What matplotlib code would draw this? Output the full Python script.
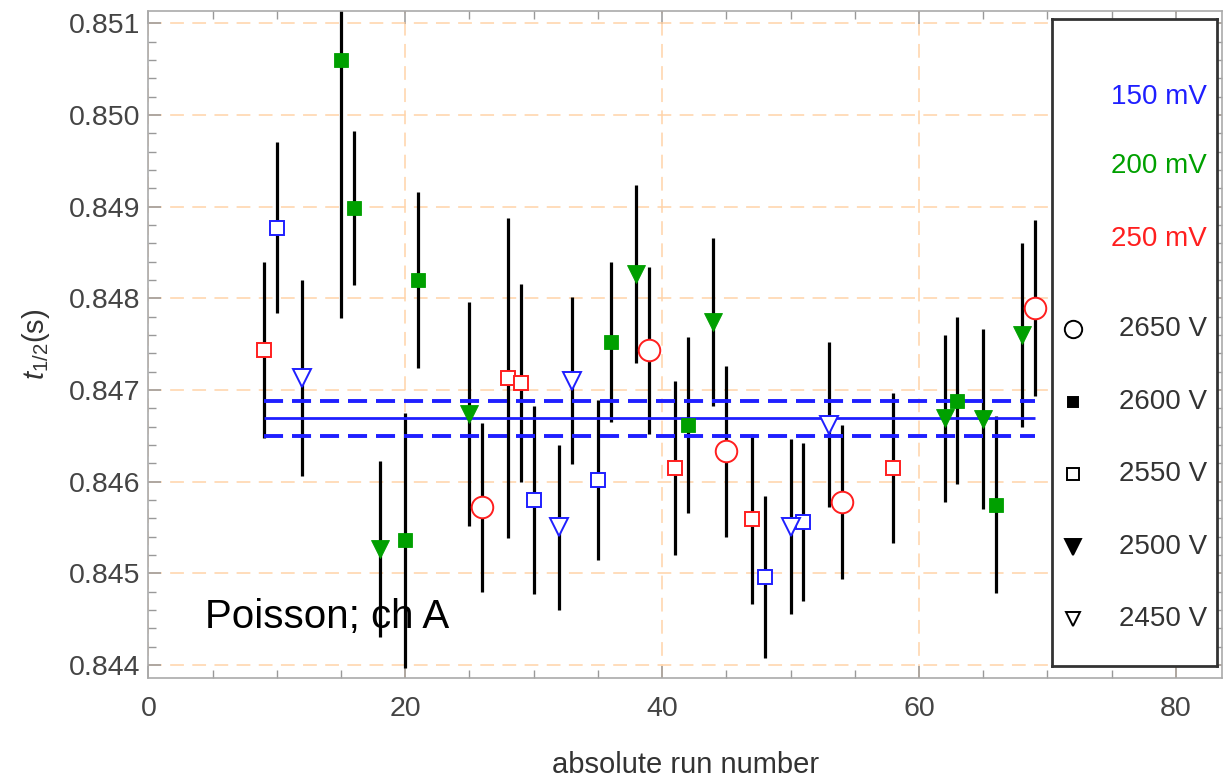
import numpy as np
import matplotlib.pyplot as plt
from matplotlib.ticker import MultipleLocator, FormatStrFormatter

plt.rcParams['font.family'] = ['Liberation Sans', 'DejaVu Sans']
plt.rcParams['mathtext.fontset'] = 'custom'
plt.rcParams['mathtext.rm'] = 'Liberation Sans'
plt.rcParams['mathtext.it'] = 'Liberation Sans:italic'

# run data: half-life, uncertainty, discriminator threshold (mV), high voltage (V)
runs = [9, 10, 12, 15, 16, 18, 20, 21, 25, 26, 28, 29, 30, 32, 33, 35, 36, 38,
        39, 41, 42, 44, 45, 47, 48, 50, 51, 53, 54, 58, 62, 63, 65, 66, 68, 69]
t_half = [0.84744, 0.84877, 0.84713, 0.85060, 0.84898, 0.84527, 0.84536, 0.84820,
          0.84674, 0.84572, 0.84713, 0.84708, 0.84580, 0.84550, 0.84710, 0.84602,
          0.84752, 0.84826, 0.84743, 0.84615, 0.84662, 0.84774, 0.84633, 0.84559,
          0.84496, 0.84551, 0.84556, 0.84662, 0.84578, 0.84615, 0.84669, 0.84688,
          0.84668, 0.84575, 0.84760, 0.84789]
t_err = [0.00096, 0.00093, 0.00107, 0.00282, 0.00084, 0.00096, 0.00139, 0.00096,
         0.00122, 0.00092, 0.00174, 0.00108, 0.00103, 0.00090, 0.00091, 0.00087,
         0.00087, 0.00097, 0.00091, 0.00095, 0.00096, 0.00092, 0.00093, 0.00093,
         0.00088, 0.00095, 0.00086, 0.00090, 0.00084, 0.00082, 0.00091, 0.00091,
         0.00098, 0.00097, 0.00100, 0.00096]
threshold = [250, 150, 150, 200, 200, 200, 200, 200, 200, 250, 250, 250, 150, 150,
             150, 150, 200, 200, 250, 250, 200, 200, 250, 250, 150, 150, 150, 150,
             250, 250, 200, 200, 200, 200, 200, 250]
hv = [2550, 2550, 2450, 2600, 2600, 2500, 2600, 2600, 2500, 2650, 2550, 2550, 2550,
      2450, 2450, 2550, 2600, 2500, 2650, 2550, 2600, 2500, 2650, 2550, 2550, 2450,
      2550, 2450, 2650, 2550, 2500, 2600, 2500, 2600, 2500, 2650]

mean_t = 0.84669
mean_err = 0.00019

thresholds = [150, 200, 250]
threshold_colors = {150: '#1f1fff', 200: '#00a000', 250: '#ff1f1f'}
hv_levels = [2650, 2600, 2550, 2500, 2450]
# marker, filled, markersize
hv_styles = {2650: ('o', False, 15.5),
             2600: ('s', True, 9.8),
             2550: ('s', False, 10.3),
             2500: ('v', True, 13),
             2450: ('v', False, 13.5)}

runs = np.array(runs)
t_half = np.array(t_half)
t_err = np.array(t_err)
threshold = np.array(threshold)
hv = np.array(hv)

fig = plt.figure(figsize=(12.25, 7.83), dpi=100)
ax = fig.add_axes([0.1211, 0.1341, 0.8765, 0.852])

ax.errorbar(runs, t_half, yerr=t_err, fmt='none', ecolor='black',
            elinewidth=2.3, capsize=0, zorder=2)

x0, x1 = runs.min(), runs.max()
ax.hlines(mean_t, x0, x1, colors='#1f1fff', linewidth=2.0, zorder=3)
ax.hlines([mean_t - mean_err, mean_t + mean_err], x0, x1, colors='#1f1fff',
          linewidth=2.8, linestyles=[(0, (4.9, 2.3))], zorder=3)

for thr in thresholds:
    for v in hv_levels:
        sel = (threshold == thr) & (hv == v)
        if not sel.any():
            continue
        marker, filled, ms = hv_styles[v]
        col = threshold_colors[thr]
        ax.plot(runs[sel], t_half[sel], linestyle='none', marker=marker,
                markersize=ms, markeredgecolor=col,
                markerfacecolor=col if filled else 'white',
                markeredgewidth=0.6 if filled else 1.4, zorder=4)

ax.set_xlim(0, 83.6)
ax.set_ylim(0.843858, 0.851134)
ax.xaxis.set_major_locator(MultipleLocator(20))
ax.xaxis.set_minor_locator(MultipleLocator(5))
ax.yaxis.set_major_locator(MultipleLocator(0.001))
ax.yaxis.set_minor_locator(MultipleLocator(0.0002))
ax.yaxis.set_major_formatter(FormatStrFormatter('%.3f'))

ax.grid(True, which='major', color='#ffd3a8', linestyle=(0, (9, 5.5)), linewidth=1.1)
ax.set_axisbelow(True)
for sp in ax.spines.values():
    sp.set_color('#aaaaaa')
    sp.set_linewidth(1.2)
ax.tick_params(which='both', direction='in', top=True, right=True, color='#999999',
               labelcolor='#444444', labelsize=20.5)
ax.tick_params(which='major', length=9, width=1.1)
ax.tick_params(which='minor', length=5.5, width=1.0)
ax.tick_params(axis='x', which='major', pad=13)
ax.tick_params(axis='y', which='major', pad=6)

ax.set_xlabel('absolute run number', fontsize=21, color='#333333', labelpad=21)
ax.set_ylabel(r'$t_{1/2}$(s)', fontsize=21, color='#333333', labelpad=12)

ax.text(0.0528, 0.075, 'Poisson; ch A', transform=ax.transAxes, fontsize=29,
        color='black', va='baseline', ha='left', zorder=5)

# legend box
lx0, lx1, ly0, ly1 = 1052, 1217, 19, 666
lax = fig.add_axes([lx0 / 1225, 1 - ly1 / 783, (lx1 - lx0) / 1225, (ly1 - ly0) / 783],
                   zorder=10)
lax.set_xlim(lx0, lx1)
lax.set_ylim(ly1, ly0)
lax.set_xticks([])
lax.set_yticks([])
for sp in lax.spines.values():
    sp.set_color('#333333')
    sp.set_linewidth(2.0)

text_x = 1207
for thr, ypos in zip(thresholds, [97, 166, 239]):
    lax.text(text_x, ypos, f'{thr} mV', color=threshold_colors[thr], fontsize=20,
             ha='right', va='center')
leg_sizes = {2650: 12.5, 2600: 7.5, 2550: 8, 2500: 11, 2450: 10.5}
for v, ypos in zip(hv_levels, [329, 402, 474, 547, 619]):
    marker, filled, _ = hv_styles[v]
    lax.plot([1073], [ypos], linestyle='none', marker=marker, markersize=leg_sizes[v],
             markeredgecolor='black', markerfacecolor='black' if filled else 'white',
             markeredgewidth=1.4)
    lax.text(text_x, ypos, f'{v} V', color='#333333', fontsize=20,
             ha='right', va='center')

fig.savefig('out.png', dpi=100)
